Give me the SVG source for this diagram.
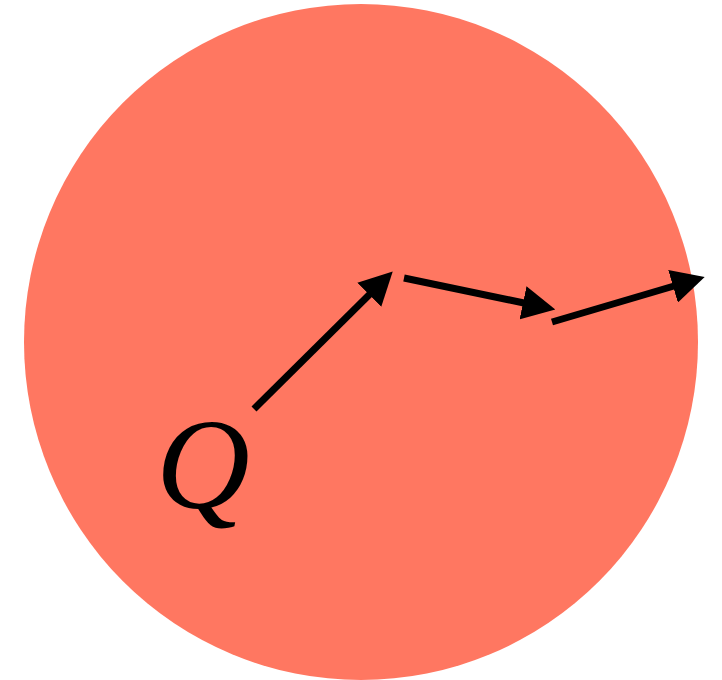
<svg xmlns="http://www.w3.org/2000/svg" width="722" height="680" viewBox="0 0 722 680">
<style>
.arrow{stroke:#000;stroke-width:7;fill:none;marker-end:url(#head)}
.lbl{font-family:"Liberation Serif","Times New Roman",serif;font-style:italic;font-size:130px;fill:#000}
</style>
<defs>
<marker id="head" viewBox="0 0 33 34" refX="1" refY="17" markerUnits="userSpaceOnUse" markerWidth="33" markerHeight="34" orient="auto">
<path d="M0,0 L33,17 L0,34 z" fill="#000"/>
</marker>
</defs>
<g id="ball">
<ellipse cx="361" cy="342" rx="337" ry="338" fill="#FF7761"/>
</g>
<g id="label-Q">
<text class="lbl" x="156" y="508">Q</text>
</g>
<g id="connectors">
<line class="arrow" x1="254" y1="409" x2="370" y2="294"/>
<line class="arrow" x1="404" y1="278" x2="524" y2="303"/>
<line class="arrow" x1="552" y1="322" x2="674" y2="286"/>
</g>
</svg>
